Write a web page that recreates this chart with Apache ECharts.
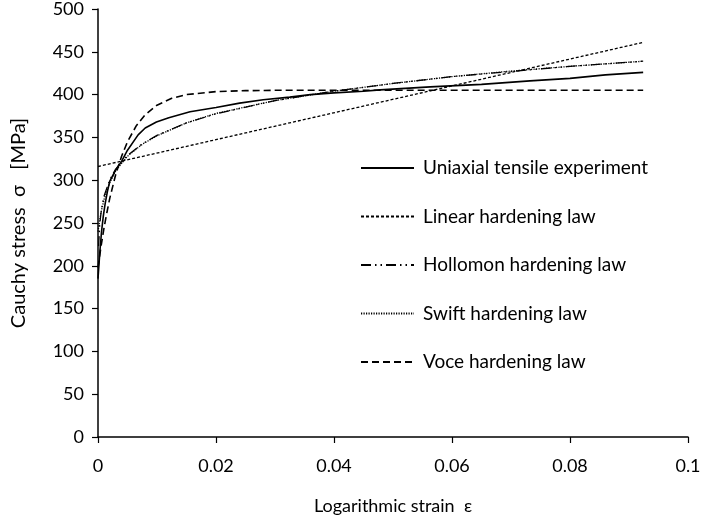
<!DOCTYPE html>
<html><head><meta charset="utf-8">
<script src="https://cdn.jsdelivr.net/npm/echarts@6/dist/echarts.min.js"></script>
<style>html,body{margin:0;padding:0;background:#fff}#c{width:709px;height:526px}</style>
</head><body><div id="c"></div>
<script>
const seriesNames = ['Uniaxial tensile experiment','Linear hardening law','Hollomon hardening law','Swift hardening law','Voce hardening law'];
const expStrain = [0,0.0003,0.0006,0.0009,0.0012,0.0016,0.002,0.003,0.004,0.005,0.0068,0.008,0.0099,0.012,0.0156,0.02,0.024,0.028,0.0325,0.036,0.04,0.045,0.0478,0.0563,0.065,0.0732,0.08,0.086,0.0924];
const expStress = [185,215,240,258,272,287,299,312,322,335,353,361,368,373,380,385,390,394,397,400,402,404,405.5,409,412,416,419,423,426];
const linStrain = [0,0.0924];
const linStress = [316,461];
const holStrain = [0.0001,0.0003,0.0006,0.001,0.002,0.003,0.005,0.0075,0.01,0.015,0.02,0.03,0.04,0.05,0.06,0.07,0.08,0.0924];
const holStress = [223,249,267,281,300.5,313,329,342.5,352.4,367,377.5,393,404,413,421,427,433,439];
const swiStrain = [0,0.0005,0.001,0.002,0.003,0.005,0.0075,0.01,0.015,0.02,0.03,0.04,0.05,0.06,0.07,0.08,0.0924];
const swiStress = [240,262,277,297,311,328,342,352,367,378,393,404,413,421,427.5,433,439];
const vocStrain = [0,0.0005,0.001,0.0015,0.002,0.003,0.004,0.005,0.0065,0.008,0.01,0.0125,0.015,0.02,0.025,0.03,0.0924];
const vocStress = [198,222,243.5,262,279,306.7,328,345,363.7,376.5,387.6,395.7,400,403.5,404.6,405,405];

const zip = (a,b)=>a.map((v,i)=>[v,b[i]]);
const font = 'Lato, "Liberation Sans", sans-serif';
const chart = echarts.init(document.getElementById('c'));
const mk = (name, data, width, type) => ({
  name, type:'line', data, symbol:'none', smooth:false,
  lineStyle:{color:'#000', width, type}, itemStyle:{color:'#000'}, animation:false
});
chart.setOption({
  animation:false,
  grid:{left:98, right:21, top:7, bottom:89},
  xAxis:{type:'value', min:0, max:0.1, interval:0.02,
    name:'Logarithmic strain  \u03b5', nameLocation:'middle', nameGap:60,
    nameTextStyle:{fontFamily:font, fontSize:18, color:'#000'},
    axisLine:{lineStyle:{color:'#000', width:1.5}},
    axisTick:{show:true, length:6, lineStyle:{color:'#000', width:1.2}},
    axisLabel:{fontFamily:font, fontSize:18, color:'#000', margin:20},
    splitLine:{show:false}},
  yAxis:{type:'value', min:0, max:500, interval:50,
    name:'Cauchy stress  \u03c3   [MPa]', nameLocation:'middle', nameGap:69,
    nameTextStyle:{fontFamily:font, fontSize:20, color:'#000'},
    axisLine:{show:true, lineStyle:{color:'#000', width:1.5}},
    axisTick:{show:true, length:6, lineStyle:{color:'#000', width:1.2}},
    axisLabel:{fontFamily:font, fontSize:18, color:'#000', margin:14},
    splitLine:{show:false}},
  legend:{orient:'vertical', left:360, top:157, itemWidth:53, itemHeight:22, itemGap:26.5,
    padding:0,
    itemStyle:{opacity:0},
    textStyle:{fontFamily:font, fontSize:19, color:'#000', padding:[0,0,0,4], lineHeight:22},
    data:seriesNames},
  series:[
    mk(seriesNames[0], zip(expStrain,expStress), 1.6, 'solid'),
    mk(seriesNames[1], zip(linStrain,linStress), 1.3, [3,2]),
    mk(seriesNames[2], zip(holStrain,holStress), 1.3, [10,4,1.5,4,1.5,4]),
    mk(seriesNames[3], zip(swiStrain,swiStress), 1.3, [1.2,1.3]),
    mk(seriesNames[4], zip(vocStrain,vocStress), 1.6, [7,4])
  ]
});
</script></body></html>
